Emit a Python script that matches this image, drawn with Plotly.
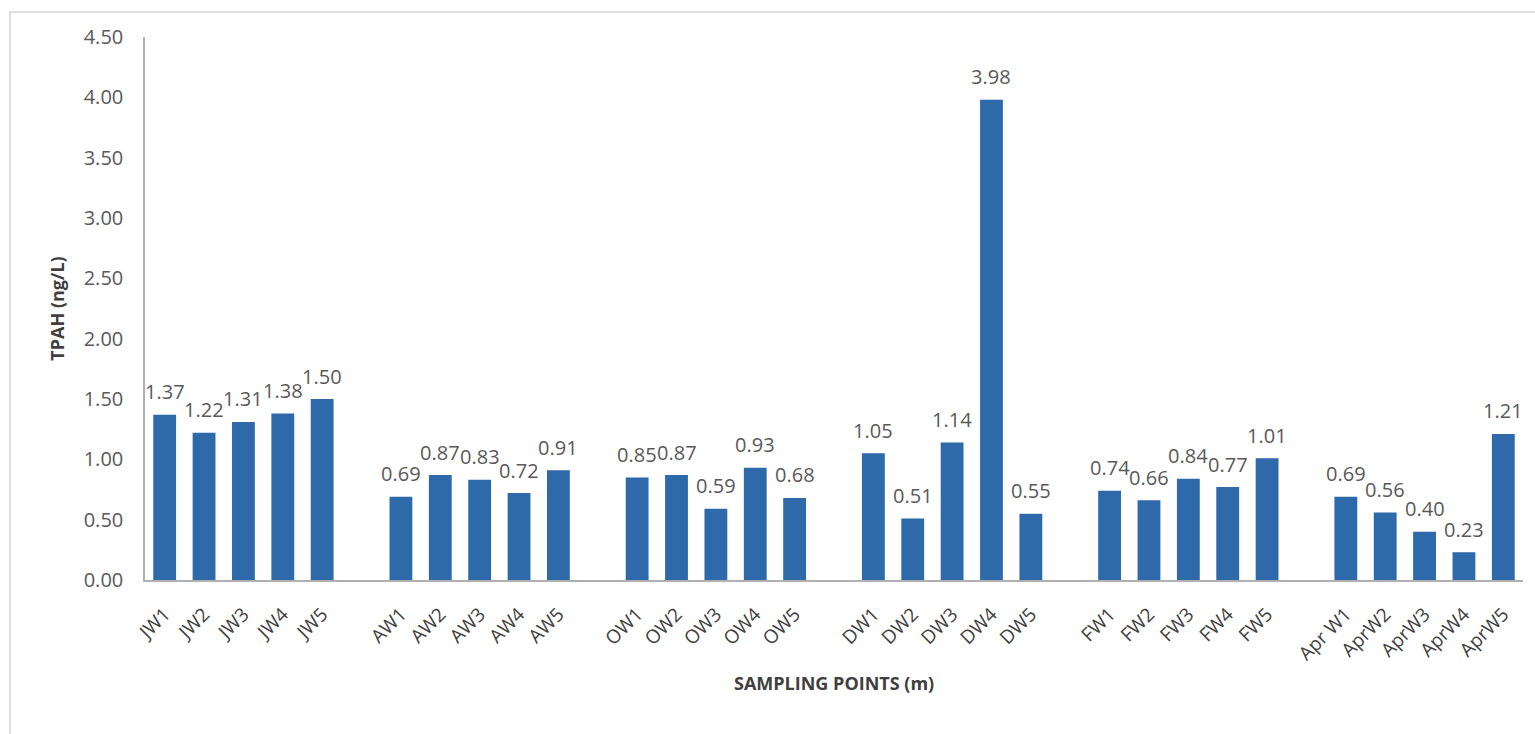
import plotly.graph_objects as go

# Sampling groups and TPAH concentrations (ng/L)
groups = ["JW", "AW", "OW", "DW", "FW", "Apr"]
labels_jw = ["JW1", "JW2", "JW3", "JW4", "JW5"]
labels_aw = ["AW1", "AW2", "AW3", "AW4", "AW5"]
labels_ow = ["OW1", "OW2", "OW3", "OW4", "OW5"]
labels_dw = ["DW1", "DW2", "DW3", "DW4", "DW5"]
labels_fw = ["FW1", "FW2", "FW3", "FW4", "FW5"]
labels_apr = ["Apr W1", "AprW2", "AprW3", "AprW4", "AprW5"]

values_jw = [1.37, 1.22, 1.31, 1.38, 1.50]
values_aw = [0.69, 0.87, 0.83, 0.72, 0.91]
values_ow = [0.85, 0.87, 0.59, 0.93, 0.68]
values_dw = [1.05, 0.51, 1.14, 3.98, 0.55]
values_fw = [0.74, 0.66, 0.84, 0.77, 1.01]
values_apr = [0.69, 0.56, 0.40, 0.23, 1.21]

y_ticks = [0.0, 0.5, 1.0, 1.5, 2.0, 2.5, 3.0, 3.5, 4.0, 4.5]

all_labels = [labels_jw, labels_aw, labels_ow, labels_dw, labels_fw, labels_apr]
all_values = [values_jw, values_aw, values_ow, values_dw, values_fw, values_apr]

# one empty slot between consecutive groups
xs, names, vals = [], [], []
for g, (labs, vs) in enumerate(zip(all_labels, all_values)):
    for i, (lab, v) in enumerate(zip(labs, vs)):
        xs.append(g * 6 + i)
        names.append(lab)
        vals.append(v)

BAR = "#2E69AA"
TEXT = "#595959"
DARK = "#404040"
FONT = "Open Sans"

W, H = 1535, 734
ML, MR, MT, MB = 145, 12, 37, 154

fig = go.Figure(
    go.Bar(
        x=xs,
        y=vals,
        marker=dict(color=BAR, line=dict(width=0)),
        width=0.58,
        hoverinfo="x+y",
    )
)

# value labels above each bar
for x, v in zip(xs, vals):
    fig.add_annotation(
        x=x, y=v, text=f"{v:.2f}", showarrow=False,
        xref="x", yref="y", yanchor="middle", yshift=23,
        font=dict(family=FONT, size=20, color=TEXT),
    )

pw = W - ML - MR
ph = H - MT - MB


def px_x(p):
    return (p - ML) / pw


def px_y(p):
    return (H - MB - p) / ph


fig.add_annotation(
    x=0.5, y=px_y(697), xref="paper", yref="paper",
    text="<b>SAMPLING POINTS (m)</b>", showarrow=False,
    font=dict(family=FONT, size=18, color=DARK),
)

# outer chart frame
fig.add_shape(
    type="rect", xref="paper", yref="paper",
    x0=px_x(10), x1=px_x(1545), y0=px_y(745), y1=px_y(12),
    line=dict(color="#d4d4d4", width=1.5), fillcolor="rgba(0,0,0,0)",
    layer="below",
)

fig.update_layout(
    width=W, height=H,
    margin=dict(l=ML, r=MR, t=MT, b=MB),
    paper_bgcolor="white", plot_bgcolor="white",
    showlegend=False,
    bargap=0.42,
    xaxis=dict(
        range=[-0.5, 34.5],
        tickmode="array", tickvals=xs, ticktext=names,
        tickangle=-45,
        tickfont=dict(family=FONT, size=19, color=DARK),
        ticklabelstandoff=14,
        showgrid=False, zeroline=False,
        showline=True, linecolor="#b0b0b0", linewidth=1.5,
        ticks="",
    ),
    yaxis=dict(
        range=[0, 4.5],
        tickmode="array", tickvals=y_ticks,
        ticktext=[f"{t:.2f}" for t in y_ticks],
        tickfont=dict(family=FONT, size=20, color=TEXT),
        ticklabelstandoff=16,
        showgrid=False, zeroline=False,
        showline=True, linecolor="#b0b0b0", linewidth=1.5,
        ticks="",
        title=dict(
            text="<b>TPAH (ng/L)</b>",
            font=dict(family=FONT, size=18, color=DARK),
            standoff=14,
        ),
    ),
)

fig.write_html("out.html")
